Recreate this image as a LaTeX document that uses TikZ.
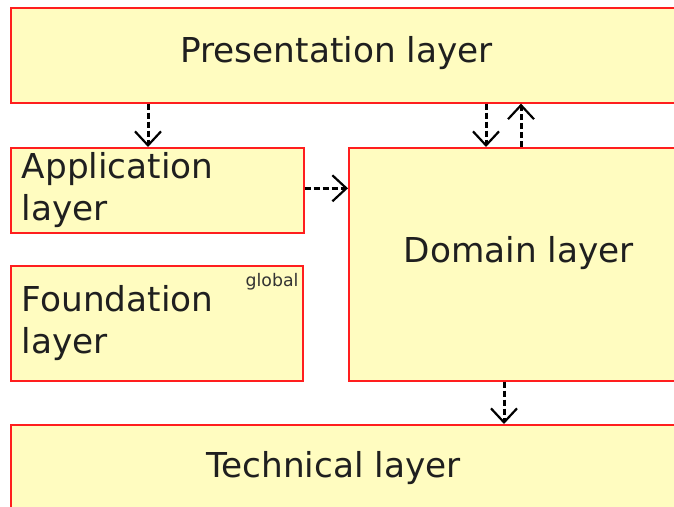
\documentclass[tikz,border=0pt]{standalone}
\usepackage{fontspec}
\setmainfont{DejaVu Sans}
\usetikzlibrary{arrows.meta,positioning}

\definecolor{layerfill}{RGB}{255,252,192}
\definecolor{layerline}{RGB}{255,30,30}

\tikzset{
  layer/.style={draw=layerline,fill=layerfill,line width=1.6pt,
    anchor=north west,inner ysep=0pt,inner xsep=11pt,align=left,
    text=black!88,font=\fontsize{34.3}{42}\selectfont},
  layername/.style={anchor=base,inner sep=0pt,text=black!88,
    font=\fontsize{34.3}{42}\selectfont},
  uses/.style={black,line width=3pt,dash pattern=on 6pt off 3pt,
    -{Straight Barb[length=14pt,width=26pt,line width=2.2pt]}}
}

\begin{document}
\begin{tikzpicture}[x=1pt,y=1pt]
\useasboundingbox (0,0) rectangle (674,-506);
\clip (0,0) rectangle (674,-506);

% the layers
\node[layer,minimum width=700,minimum height=95] (presentation) at (10,-7) {};
\node[layer,minimum width=293,minimum height=85,text width=271] (application) at (10,-147) {Application\\layer};
\node[layer,minimum width=292,minimum height=115,text width=270,
  label={[anchor=north east,inner sep=0pt,xshift=-5pt,yshift=-8pt,
    font=\fontsize{17.3}{19}\selectfont,text=black!80]north east:global}] (foundation) at (10,-265) {Foundation\\layer};
\node[layer,minimum width=360,minimum height=233] (domain) at (348,-147) {};
\node[layer,minimum width=700,minimum height=100] (technical) at (10,-424) {};

\node[layername] (presentation name) at (336.5,-62) {Presentation layer};
\node[layername] (domain name) at (519,-262) {Domain layer};
\node[layername] (technical name) at (333.5,-477) {Technical layer};

% dependencies
\path ([xshift=138pt]presentation.south west) coordinate (p app)
      ([xshift=138pt]domain.north west) coordinate (d in)
      ([xshift=173pt]domain.north west) coordinate (d out)
      ([xshift=156pt]domain.south west) coordinate (d tech)
      ([yshift=2pt]application.east) coordinate (a out);
\draw[uses] (p app) -- (p app |- application.north);
\draw[uses] (d in |- presentation.south) -- (d in);
\draw[uses] (d out) -- (d out |- presentation.south);
\draw[uses] (a out) -- (a out -| domain.west);
\draw[uses] (d tech) -- (d tech |- technical.north);
\end{tikzpicture}
\end{document}
